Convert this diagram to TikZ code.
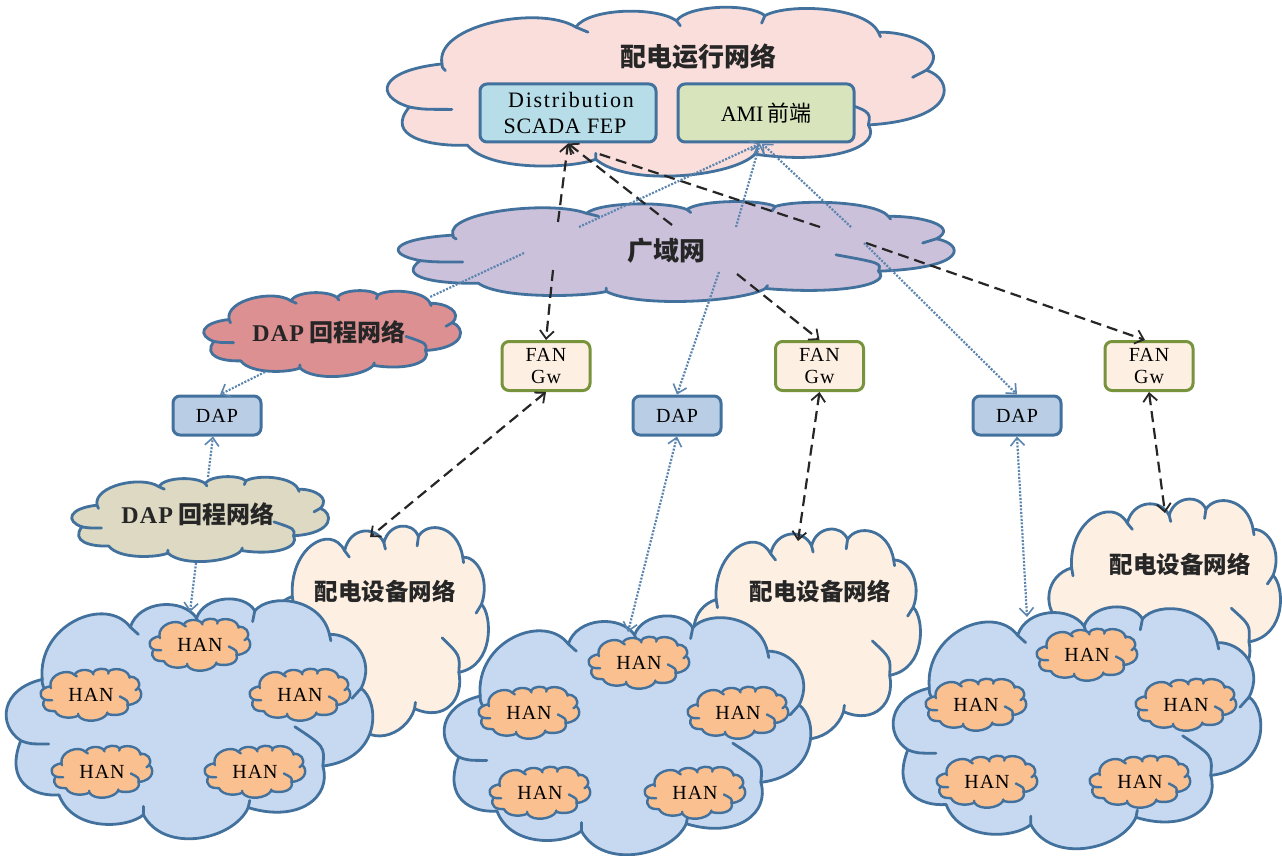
\documentclass[tikz,border=0pt]{standalone}
\usepackage{fontspec}
\setmainfont{Liberation Serif}
\newfontfamily\cjk{Noto Sans CJK SC}
\usetikzlibrary{arrows.meta}
\definecolor{cloudedge}{HTML}{41719C}
\definecolor{pinkfill}{HTML}{F9DEDC}
\definecolor{purplefill}{HTML}{CCC1DA}
\definecolor{redfill}{HTML}{DC9092}
\definecolor{grayfill}{HTML}{DDD9C3}
\definecolor{creamfill}{HTML}{FDEFE2}
\definecolor{bluefill}{HTML}{C6D9F1}
\definecolor{hanfill}{HTML}{FAC090}
\definecolor{scadafill}{HTML}{B7DEE8}
\definecolor{amifill}{HTML}{D7E4BC}
\definecolor{dapfill}{HTML}{B9CDE5}
\definecolor{fanfill}{HTML}{FDF0E2}
\definecolor{fanedge}{HTML}{77933C}
\definecolor{dotline}{HTML}{5B84AE}
\tikzset{
  boxbase/.style={rounded corners=7pt,line width=3pt,inner sep=0pt,align=center,font=\fontsize{20}{22}\selectfont\addfontfeature{LetterSpace=5}},
  dapbox/.style={boxbase,draw=cloudedge,fill=dapfill,minimum width=88pt,minimum height=39pt},
  fanbox/.style={boxbase,draw=fanedge,fill=fanfill,minimum width=88pt,minimum height=49pt},
  febox/.style={boxbase,draw=cloudedge,minimum width=176pt,minimum height=58pt,font=\fontsize{22}{26}\selectfont},
  hanlabel/.style={font=\fontsize{20}{22}\selectfont\addfontfeature{LetterSpace=5}},
  cloudtitle/.style={font=\fontsize{24}{26}\selectfont\cjk\bfseries,text=black!85},
  bigtitle/.style={font=\fontsize{26}{28}\selectfont\cjk\bfseries,text=black!85},
  devtitle/.style={font=\fontsize{23.5}{26}\selectfont\cjk\bfseries,text=black!85},
  dashconn/.style={draw=black!85,line width=2.2pt,dash pattern=on 11pt off 6pt,>={Straight Barb[length=8pt,width=14pt,line width=1.8pt]}},
  dotconn/.style={draw=dotline,line width=2.2pt,dash pattern=on 2pt off 1.5pt,>={Straight Barb[length=8pt,width=14pt,line width=1.6pt]}}
}
\newcommand{\cloudshape}[6][2.8pt]{%
  \begin{scope}[shift={(#2,#3)},x=#4pt,y=-#5pt]
    \draw[draw=cloudedge,fill=#6,line width=#1,line join=round,line cap=round]
      (.094,.331) .. controls (.08,.10) and (.27,-.02) .. (.336,.113)
      .. controls (.36,.0) and (.48,-.01) .. (.518,.075)
      .. controls (.54,-.02) and (.65,-.03) .. (.678,.045)
      .. controls (.72,-.03) and (.86,-.01) .. (.883,.143)
      .. controls (.95,.14) and (1.01,.25) .. (.970,.368)
      .. controls (1.02,.42) and (1.03,.66) .. (.865,.692)
      .. controls (.89,.82) and (.80,.93) .. (.660,.865)
      .. controls (.62,1.0) and (.43,1.06) .. (.372,.895)
      .. controls (.33,.95) and (.18,.97) .. (.140,.812)
      .. controls (.07,.82) and (-.01,.76) .. (.035,.586)
      .. controls (-.03,.52) and (-.02,.37) .. cycle;
    \draw[draw=cloudedge,line width=#1,line cap=round]
      (.035,.586) .. controls (.06,.60) .. (.112,.600)
      (.865,.692) .. controls (.87,.61) .. (.788,.528)
      (.094,.331) .. controls (.094,.35) .. (.10,.37)
      (.336,.113) -- (.358,.143)
      (.518,.075) -- (.525,.105)
      (.678,.045) -- (.672,.090)
      (.883,.143) -- (.887,.170)
      (.970,.368) -- (.945,.410)
      (.372,.895) -- (.372,.860)
      (.660,.865) -- (.664,.835);
  \end{scope}}
\newcommand{\hancloud}[2]{\cloudshape[2.4pt]{\numexpr#1-50\relax}{\numexpr#2-26\relax}{100}{52}{hanfill}}
\begin{document}
\begin{tikzpicture}[x=1pt,y=-1pt]
\useasboundingbox (0,0) rectangle (1282,856);
% clouds
\cloudshape{390}{8}{553}{169}{pinkfill}
\cloudshape{401}{202}{552}{100}{purplefill}
\cloudshape{205}{291}{255}{86}{redfill}
\cloudshape{73}{477}{255}{85}{grayfill}
\cloudshape{272}{527}{216}{210}{creamfill}
\cloudshape{695}{530}{225}{210}{creamfill}
\cloudshape{1050}{500}{230}{205}{creamfill}
\cloudshape{8}{600}{364}{240}{bluefill}
\cloudshape{446}{617}{364}{239}{bluefill}
\cloudshape{895}{608}{365}{242}{bluefill}
\hancloud{200}{645}\hancloud{91}{695}\hancloud{300}{695}\hancloud{102}{772}\hancloud{255}{772}
\hancloud{639}{663}\hancloud{529}{713}\hancloud{738}{713}\hancloud{540}{793}\hancloud{695}{793}
\hancloud{1087}{655}\hancloud{976}{705}\hancloud{1186}{705}\hancloud{987}{782}\hancloud{1140}{782}
% labels
\node[bigtitle] (opnet) at (698,57) {配电运行网络};
\node[bigtitle] (wan) at (666,251) {广域网};
\node[cloudtitle] (bh1) at (329,332) {{\rmfamily\bfseries\addfontfeature{LetterSpace=5}DAP} 回程网络};
\node[cloudtitle] (bh2) at (198,514) {{\rmfamily\bfseries\addfontfeature{LetterSpace=5}DAP} 回程网络};
\node[devtitle] (dev1) at (385,591) {配电设备网络};
\node[devtitle] (dev2) at (820,591) {配电设备网络};
\node[devtitle] (dev3) at (1180,564) {配电设备网络};
\node[hanlabel] (h11) at (200,645) {HAN};
\node[hanlabel] (h12) at (91,695) {HAN};
\node[hanlabel] (h13) at (300,695) {HAN};
\node[hanlabel] (h14) at (102,772) {HAN};
\node[hanlabel] (h15) at (255,772) {HAN};
\node[hanlabel] (h21) at (639,663) {HAN};
\node[hanlabel] (h22) at (529,713) {HAN};
\node[hanlabel] (h23) at (738,713) {HAN};
\node[hanlabel] (h24) at (540,793) {HAN};
\node[hanlabel] (h25) at (695,793) {HAN};
\node[hanlabel] (h31) at (1087,655) {HAN};
\node[hanlabel] (h32) at (976,705) {HAN};
\node[hanlabel] (h33) at (1186,705) {HAN};
\node[hanlabel] (h34) at (987,782) {HAN};
\node[hanlabel] (h35) at (1140,782) {HAN};
% boxes
\node[febox,fill=scadafill] (scada) at (568,113) {\hspace*{6pt}{\addfontfeature{LetterSpace=8}Distribution}\\\hspace*{-6pt}{\addfontfeature{LetterSpace=3}SCADA FEP}};
\node[febox,fill=amifill] (ami) at (766,113) {AMI\,{\cjk 前端}};
\node[dapbox] (dap1) at (217,415.5) {DAP};
\node[dapbox] (dap2) at (677,415.5) {DAP};
\node[dapbox] (dap3) at (1017,415.5) {DAP};
\node[fanbox] (fan1) at (546,366) {FAN\\Gw};
\node[fanbox] (fan2) at (819.5,366) {FAN\\Gw};
\node[fanbox] (fan3) at (1149,366) {FAN\\Gw};
% free ends
\coordinate (a1) at (558,222); \coordinate (a2) at (553,270);
\coordinate (b1) at (672,225); \coordinate (b2) at (737,274);
\coordinate (c0) at (596,153); \coordinate (c1) at (820,227); \coordinate (c2) at (866,243);
\coordinate (d1) at (579,227); \coordinate (d2) at (524,253); \coordinate (d3) at (430,297);
\coordinate (e1) at (736,227); \coordinate (e2) at (719,272);
\coordinate (f1) at (851,227); \coordinate (f2) at (864,243);
\coordinate (g1) at (265,372); \coordinate (g2) at (208,477); \coordinate (g3) at (196,563);
\coordinate (blue1top) at (190,612); \coordinate (blue2top) at (628,632); \coordinate (blue3top) at (1027,617);
\coordinate (dev1top) at (370,537); \coordinate (dev2top) at (798,541); \coordinate (dev3top) at (1165,513);
% dashed connectors
\draw[dashconn,->] (a1) -- (scada.south);
\draw[dashconn,->] (a2) -- (fan1.north);
\draw[dashconn,->] (b1) -- (scada.south);
\draw[dashconn,->] (b2) -- (fan2.north);
\draw[dashconn] (c1) -- (c0);
\draw[dashconn,->] (c2) -- ([xshift=-4pt]fan3.north);
\draw[dashconn,<->] (fan1.south) -- (dev1top);
\draw[dashconn,<->] (fan2.south) -- (dev2top);
\draw[dashconn,<->] (fan3.south) -- (dev3top);
% dotted connectors
\draw[dotconn,->] (d1) -- ([xshift=-6pt]ami.south);
\draw[dotconn] (d2) -- (d3);
\draw[dotconn,->] (e1) -- ([xshift=-6pt]ami.south);
\draw[dotconn,->] (f1) -- ([xshift=-4pt]ami.south);
\draw[dotconn,->] (e2) -- (dap2.north);
\draw[dotconn,->] (f2) -- (dap3.north);
\draw[dotconn,->] (g1) -- ([xshift=3pt]dap1.north);
\draw[dotconn,->] (g2) -- ([xshift=-4pt]dap1.south);
\draw[dotconn,->] (g3) -- (blue1top);
\draw[dotconn,<->] (dap2.south) -- (blue2top);
\draw[dotconn,<->] (dap3.south) -- (blue3top);
\end{tikzpicture}
\end{document}
